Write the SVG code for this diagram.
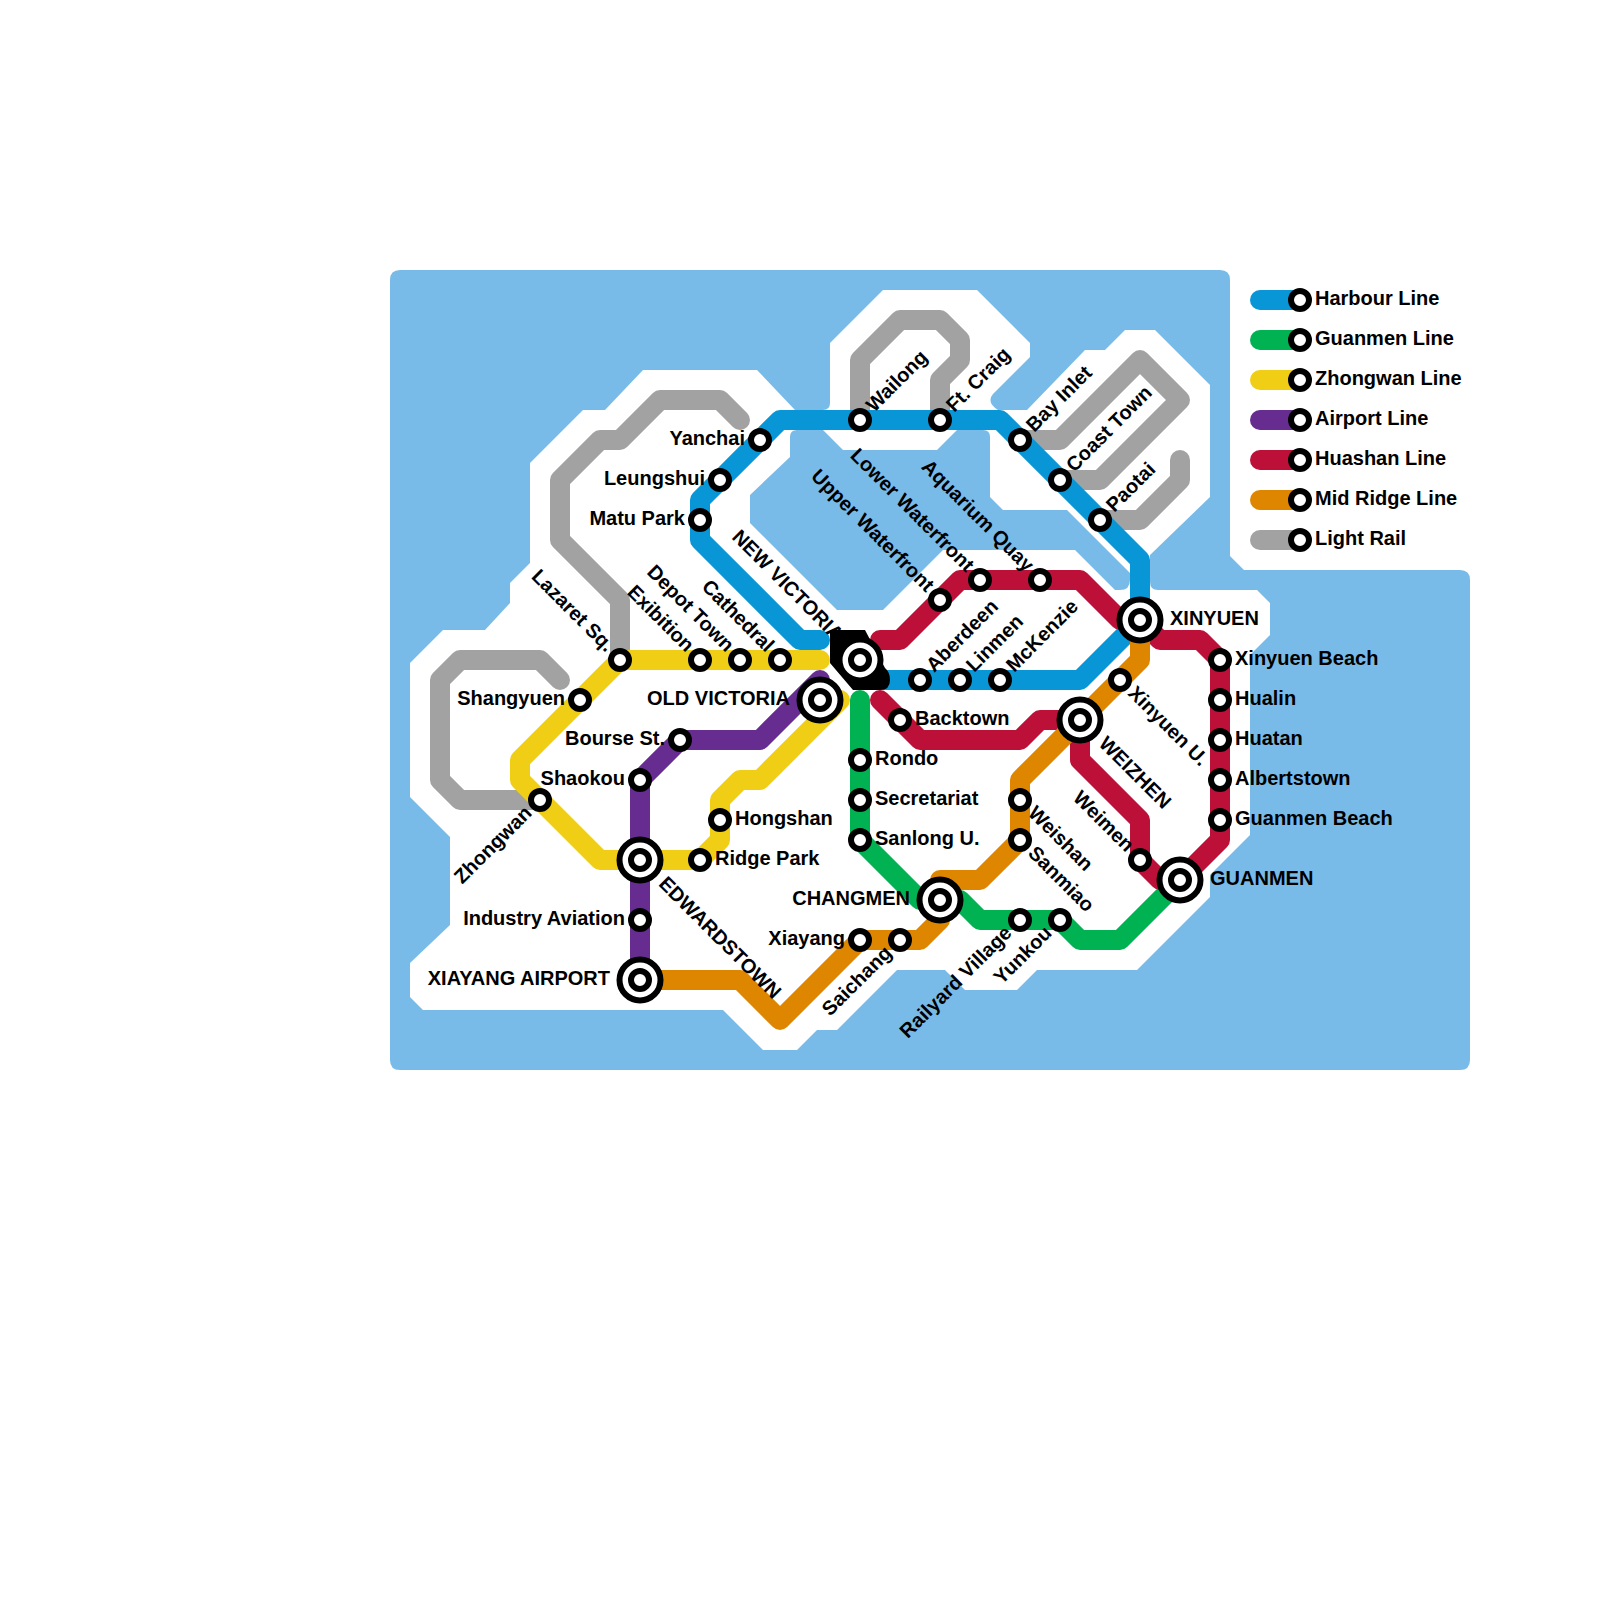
<svg xmlns="http://www.w3.org/2000/svg" width="1600" height="1600" viewBox="0 0 1600 1600">
<style>
.ln{fill:none;stroke-width:20;stroke-linecap:round;stroke-linejoin:round}
.bl{stroke:#0896d7}.gn{stroke:#00b251}.yl{stroke:#f0ce15}.pu{stroke:#662c90}.rd{stroke:#bd1038}.or{stroke:#df8600}.gy{stroke:#a2a2a2}
.st{fill:#fff;stroke:#000;stroke-width:6}
.ic{fill:#fff;stroke:#000;stroke-width:6}
text{font-family:"Liberation Sans",Arial,sans-serif;font-weight:700;font-size:20px;fill:#000}
.e{text-anchor:end}
</style>
<defs>
<g id="s"><circle class="st" r="9"/></g>
<g id="x"><circle class="ic" r="20.5"/><circle class="st" r="9"/></g>
</defs>
<rect width="1600" height="1600" fill="#fff"/>
<g id="water">
<path fill="#79bbe8" d="M400,270H1220Q1230,270 1230,280V556L1244,570H1460Q1470,570 1470,580V1060Q1470,1070 1460,1070H400Q390,1070 390,1060V280Q390,270 400,270Z"/>
<path fill="#fff" d="M757,370L795,410H823Q830,410 830,403V343L883,290H977L1030,343V357L993,394Q986,402 998,410H1027L1085,350H1105L1125,330H1155L1210,385V497L1150,555V582Q1150,590 1158,590H1257L1270,603V635L1250,655V835L1210,875V897L1137,970H1037L1017,990H965L945,970H897L837,1030H817L797,1050H763L723,1010H423L410,997V963L450,925V837L410,797V663L443,630H485L510,603V583L530,563V463L583,410H605L643,370Z"/>
<path fill="#79bbe8" d="M797,430H823L843,450H937L957,430H983Q990,430 990,437V497L1003,510H1067L1130,573V580Q1130,590 1120,590H1115L1075,550H943L883,610H837L750,523V495L790,457V437Q790,430 797,430Z"/>
</g>
<g id="connectors">
<path class="ln gy" d="M620,660V600L560,540V480L600,440H620L660,400H720L740,420"/>
<path class="ln gy" d="M560,680L540,660H460L440,680V780L460,800H540"/>
<path class="ln gy" d="M860,420V360L900,320H940L960,340V360L940,380V420"/>
<path class="ln gy" d="M1020,440H1060L1140,360L1180,400L1100,480H1060"/>
<path class="ln gy" d="M1100,520H1140L1180,480V460"/>
<path class="ln bl" d="M820,640H800L700,540V500L780,420H1000L1140,560V620L1080,680H880L860,660"/>
<path class="ln gn" d="M860,700V840L920,900H960L980,920H1060L1080,940H1120L1180,880"/>
<path class="ln yl" d="M820,660H620L520,760V780L600,860H700L720,840V800L740,780H760L840,700H820"/>
<path class="ln pu" d="M640,980V780L680,740H760L820,680V700"/>
<path class="ln rd" d="M880,640H900L960,580H1080L1120,620H1140L1160,640H1200L1220,660V840L1180,880L1160,880L1140,860V820L1080,760V720H1040L1020,740H920L880,700"/>
<path class="ln or" d="M1140,620V660L1020,780V840L980,880H940V920L920,940H860L780,1020L740,980H640"/>
<path fill="#000" d="M830,630H865L885,668Q890,672 890,680Q890,690 880,690H853L830,663Z"/>
</g>
<g id="stations">
<g id="yanchai"><use href="#s" x="760" y="440"/><text class="e" x="745" y="445">Yanchai</text></g>
<g id="leungshui"><use href="#s" x="720" y="480"/><text class="e" x="705" y="485">Leungshui</text></g>
<g id="matu-park"><use href="#s" x="700" y="520"/><text class="e" x="685" y="525">Matu Park</text></g>
<g id="wailong"><use href="#s" x="860" y="420"/><text transform="translate(860 420) rotate(-45)" x="15" y="5">Wailong</text></g>
<g id="ft-craig"><use href="#s" x="940" y="420"/><text transform="translate(940 420) rotate(-45)" x="15" y="5">Ft. Craig</text></g>
<g id="bay-inlet"><use href="#s" x="1020" y="440"/><text transform="translate(1020 440) rotate(-45)" x="15" y="5">Bay Inlet</text></g>
<g id="coast-town"><use href="#s" x="1060" y="480"/><text transform="translate(1060 480) rotate(-45)" x="15" y="5">Coast Town</text></g>
<g id="paotai"><use href="#s" x="1100" y="520"/><text transform="translate(1100 520) rotate(-45)" x="15" y="5">Paotai</text></g>
<g id="xinyuen"><use href="#x" x="1140" y="620"/><text x="1170" y="625">XINYUEN</text></g>
<g id="aquarium-quay"><use href="#s" x="1040" y="580"/><text class="e" transform="translate(1040 580) rotate(45)" x="-15" y="5">Aquarium Quay</text></g>
<g id="lower-waterfront"><use href="#s" x="980" y="580"/><text class="e" transform="translate(980 580) rotate(45)" x="-15" y="5">Lower Waterfront</text></g>
<g id="upper-waterfront"><use href="#s" x="940" y="600"/><text class="e" transform="translate(940 600) rotate(45)" x="-15" y="5">Upper Waterfront</text></g>
<g id="new-victoria"><use href="#x" x="860" y="660"/><text class="e" transform="translate(860 660) rotate(45)" x="-30" y="5">NEW VICTORIA</text></g>
<g id="aberdeen"><use href="#s" x="920" y="680"/><text transform="translate(920 680) rotate(-45)" x="15" y="5">Aberdeen</text></g>
<g id="linmen"><use href="#s" x="960" y="680"/><text transform="translate(960 680) rotate(-45)" x="15" y="5">Linmen</text></g>
<g id="mckenzie"><use href="#s" x="1000" y="680"/><text transform="translate(1000 680) rotate(-45)" x="15" y="5">McKenzie</text></g>
<g id="old-victoria"><use href="#x" x="820" y="700"/><text class="e" x="790" y="705">OLD VICTORIA</text></g>
<g id="lazaret-sq"><use href="#s" x="620" y="660"/><text class="e" transform="translate(620 660) rotate(45)" x="-15" y="5">Lazaret Sq.</text></g>
<g id="exibition"><use href="#s" x="700" y="660"/><text class="e" transform="translate(700 660) rotate(45)" x="-15" y="5">Exibition</text></g>
<g id="depot-town"><use href="#s" x="740" y="660"/><text class="e" transform="translate(740 660) rotate(45)" x="-15" y="5">Depot Town</text></g>
<g id="cathedral"><use href="#s" x="780" y="660"/><text class="e" transform="translate(780 660) rotate(45)" x="-15" y="5">Cathedral</text></g>
<g id="shangyuen"><use href="#s" x="580" y="700"/><text class="e" x="565" y="705">Shangyuen</text></g>
<g id="bourse-st"><use href="#s" x="680" y="740"/><text class="e" x="665" y="745">Bourse St.</text></g>
<g id="shaokou"><use href="#s" x="640" y="780"/><text class="e" x="625" y="785">Shaokou</text></g>
<g id="zhongwan"><use href="#s" x="540" y="800"/><text class="e" transform="translate(540 800) rotate(-45)" x="-15" y="5">Zhongwan</text></g>
<g id="edwardstown"><use href="#x" x="640" y="860"/><text transform="translate(640 860) rotate(45)" x="30" y="5">EDWARDSTOWN</text></g>
<g id="hongshan"><use href="#s" x="720" y="820"/><text x="735" y="825">Hongshan</text></g>
<g id="ridge-park"><use href="#s" x="700" y="860"/><text x="715" y="865">Ridge Park</text></g>
<g id="industry-aviation"><use href="#s" x="640" y="920"/><text class="e" x="625" y="925">Industry Aviation</text></g>
<g id="xiayang-airport"><use href="#x" x="640" y="980"/><text class="e" x="610" y="985">XIAYANG AIRPORT</text></g>
<g id="backtown"><use href="#s" x="900" y="720"/><text x="915" y="725">Backtown</text></g>
<g id="weizhen"><use href="#x" x="1080" y="720"/><text transform="translate(1080 720) rotate(45)" x="30" y="5">WEIZHEN</text></g>
<g id="xinyuen-u"><use href="#s" x="1120" y="680"/><text transform="translate(1120 680) rotate(45)" x="15" y="5">Xinyuen U.</text></g>
<g id="xinyuen-beach"><use href="#s" x="1220" y="660"/><text x="1235" y="665">Xinyuen Beach</text></g>
<g id="hualin"><use href="#s" x="1220" y="700"/><text x="1235" y="705">Hualin</text></g>
<g id="huatan"><use href="#s" x="1220" y="740"/><text x="1235" y="745">Huatan</text></g>
<g id="albertstown"><use href="#s" x="1220" y="780"/><text x="1235" y="785">Albertstown</text></g>
<g id="guanmen-beach"><use href="#s" x="1220" y="820"/><text x="1235" y="825">Guanmen Beach</text></g>
<g id="rondo"><use href="#s" x="860" y="760"/><text x="875" y="765">Rondo</text></g>
<g id="secretariat"><use href="#s" x="860" y="800"/><text x="875" y="805">Secretariat</text></g>
<g id="sanlong-u"><use href="#s" x="860" y="840"/><text x="875" y="845">Sanlong U.</text></g>
<g id="weishan"><use href="#s" x="1020" y="800"/><text transform="translate(1020 800) rotate(45)" x="15" y="5">Weishan</text></g>
<g id="sanmiao"><use href="#s" x="1020" y="840"/><text transform="translate(1020 840) rotate(45)" x="15" y="5">Sanmiao</text></g>
<g id="weimen"><use href="#s" x="1140" y="860"/><text class="e" transform="translate(1140 860) rotate(45)" x="-15" y="5">Weimen</text></g>
<g id="guanmen"><use href="#x" x="1180" y="880"/><text x="1210" y="885">GUANMEN</text></g>
<g id="changmen"><use href="#x" x="940" y="900"/><text class="e" x="910" y="905">CHANGMEN</text></g>
<g id="xiayang"><use href="#s" x="860" y="940"/><text class="e" x="845" y="945">Xiayang</text></g>
<g id="saichang"><use href="#s" x="900" y="940"/><text class="e" transform="translate(900 940) rotate(-45)" x="-15" y="5">Saichang</text></g>
<g id="railyard-village"><use href="#s" x="1020" y="920"/><text class="e" transform="translate(1020 920) rotate(-45)" x="-15" y="5">Railyard Village</text></g>
<g id="yunkou"><use href="#s" x="1060" y="920"/><text class="e" transform="translate(1060 920) rotate(-45)" x="-15" y="5">Yunkou</text></g>
</g>
<g id="legend">
<g id="legend-harbour"><path class="ln bl" d="M1260,300H1300"/><use href="#s" x="1300" y="300"/><text x="1315" y="305">Harbour Line</text></g>
<g id="legend-guanmen"><path class="ln gn" d="M1260,340H1300"/><use href="#s" x="1300" y="340"/><text x="1315" y="345">Guanmen Line</text></g>
<g id="legend-zhongwan"><path class="ln yl" d="M1260,380H1300"/><use href="#s" x="1300" y="380"/><text x="1315" y="385">Zhongwan Line</text></g>
<g id="legend-airport"><path class="ln pu" d="M1260,420H1300"/><use href="#s" x="1300" y="420"/><text x="1315" y="425">Airport Line</text></g>
<g id="legend-huashan"><path class="ln rd" d="M1260,460H1300"/><use href="#s" x="1300" y="460"/><text x="1315" y="465">Huashan Line</text></g>
<g id="legend-midridge"><path class="ln or" d="M1260,500H1300"/><use href="#s" x="1300" y="500"/><text x="1315" y="505">Mid Ridge Line</text></g>
<g id="legend-lightrail"><path class="ln gy" d="M1260,540H1300"/><use href="#s" x="1300" y="540"/><text x="1315" y="545">Light Rail</text></g>
</g>
</svg>
